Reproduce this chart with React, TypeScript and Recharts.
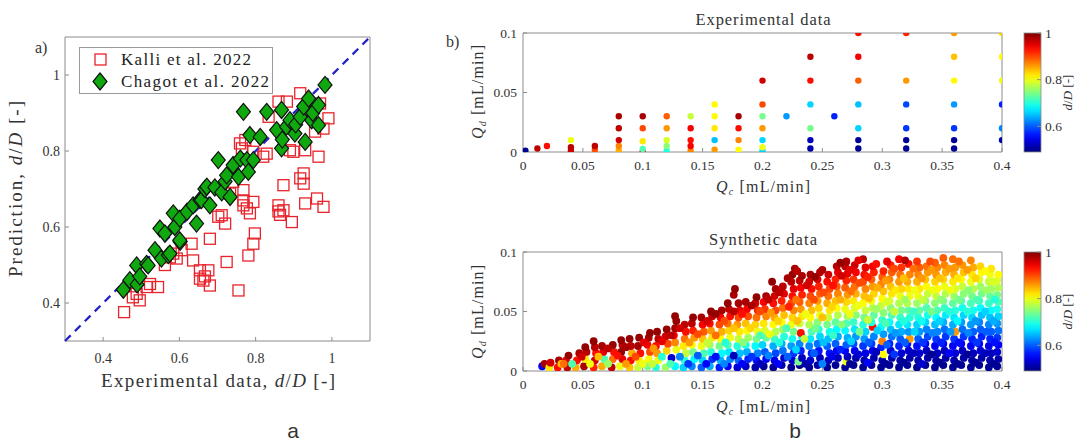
import React from "react";
import { ScatterChart, Scatter, XAxis, YAxis, ReferenceArea, ReferenceLine, Legend } from "recharts";

const SERIF = "Liberation Serif, Times New Roman, serif";
const SANS = "Liberation Sans, Arial, sans-serif";
const AXIS_GREY = "#8c8c8c";
const RED = "#e8232b";
const GREEN = "#0fa80f";

// panel a: [experimental d/D, predicted d/D]
const kalliRows = [
  [0.455, 0.376], [0.488, 0.424], [0.496, 0.407], [0.478, 0.415], [0.514, 0.442], [0.544, 0.442], [0.523, 0.45],
  [0.593, 0.517], [0.584, 0.53], [0.636, 0.512], [0.654, 0.486], [0.663, 0.459], [0.676, 0.486], [0.68, 0.446],
  [0.654, 0.464], [0.667, 0.47], [0.68, 0.569], [0.702, 0.627], [0.72, 0.609], [0.724, 0.508], [0.711, 0.631],
  [0.755, 0.433], [0.781, 0.525], [0.794, 0.556], [0.798, 0.583], [0.777, 0.649], [0.794, 0.666], [0.768, 0.67],
  [0.768, 0.697], [0.785, 0.636], [0.768, 0.657], [0.764, 0.807], [0.773, 0.829], [0.794, 0.798], [0.82, 0.785],
  [0.829, 0.793], [0.759, 0.82], [0.741, 0.719], [0.733, 0.688], [0.86, 0.641], [0.864, 0.632], [0.873, 0.71],
  [0.895, 0.613], [0.899, 0.798], [0.873, 0.644], [0.86, 0.657], [0.917, 0.952], [0.926, 0.741], [0.926, 0.714],
  [0.917, 0.728], [0.93, 0.662], [0.93, 0.802], [0.89, 0.802], [0.965, 0.785], [0.961, 0.675], [0.978, 0.653],
  [0.978, 0.859], [0.991, 0.886], [0.956, 0.851], [0.86, 0.93], [0.882, 0.93], [0.969, 0.925], [0.943, 0.908],
  [0.834, 0.89], [0.632, 0.556], [0.606, 0.539], [0.562, 0.5], [0.575, 0.52],
];

const chagotRows = [
  [0.453, 0.435], [0.47, 0.46], [0.488, 0.499], [0.489, 0.449], [0.496, 0.47], [0.514, 0.503], [0.518, 0.499],
  [0.536, 0.539], [0.549, 0.596], [0.553, 0.517], [0.562, 0.583], [0.571, 0.526], [0.575, 0.53], [0.584, 0.636],
  [0.588, 0.6], [0.601, 0.622], [0.602, 0.561], [0.601, 0.565], [0.62, 0.64], [0.636, 0.657], [0.645, 0.609],
  [0.654, 0.671], [0.658, 0.671], [0.667, 0.7], [0.672, 0.706], [0.68, 0.657], [0.693, 0.704], [0.702, 0.776],
  [0.711, 0.691], [0.72, 0.72], [0.724, 0.736], [0.733, 0.679], [0.741, 0.763], [0.755, 0.732], [0.76, 0.78],
  [0.768, 0.903], [0.777, 0.776], [0.781, 0.745], [0.785, 0.842], [0.794, 0.776], [0.812, 0.837], [0.829, 0.903],
  [0.855, 0.855], [0.868, 0.908], [0.868, 0.807], [0.87, 0.83], [0.881, 0.864], [0.89, 0.881], [0.903, 0.846],
  [0.905, 0.87], [0.917, 0.89], [0.926, 0.917], [0.93, 0.824], [0.939, 0.938], [0.947, 0.881], [0.95, 0.9],
  [0.965, 0.921], [0.965, 0.868], [0.982, 0.974],
];

const diagTicks = [0.4, 0.6, 0.8, 1];
const qcTicks = [0, 0.05, 0.1, 0.15, 0.2, 0.25, 0.3, 0.35, 0.4];
const qdTicks = [0, 0.05, 0.1];
const cbarTicks = [0.6, 0.8, 1];

// panel b top: [Qc, Qd, d/D]
const expRows = [
  [0.002, 0.001, 0.5], [0.012, 0.003, 0.97], [0.02, 0.005, 0.93],
  [0.04, 0.001, 0.96], [0.04, 0.004, 0.97], [0.04, 0.01, 0.8],
  [0.06, 0.002, 0.9], [0.06, 0.005, 0.97],
  [0.08, 0.001, 0.85], [0.08, 0.005, 0.87], [0.08, 0.01, 0.96], [0.08, 0.02, 0.97], [0.08, 0.03, 0.98],
  [0.1, 0.0005, 0.93], [0.1, 0.0025, 0.72], [0.1, 0.009, 0.82], [0.1, 0.02, 0.9], [0.1, 0.03, 0.98],
  [0.12, 0.001, 0.7], [0.12, 0.005, 0.75], [0.12, 0.01, 0.79], [0.12, 0.02, 0.86], [0.12, 0.03, 0.89],
  [0.14, 0.001, 0.87], [0.14, 0.005, 0.94], [0.14, 0.01, 0.93], [0.14, 0.02, 0.94], [0.14, 0.03, 0.78],
  [0.16, 0.002, 0.86], [0.16, 0.01, 0.65], [0.16, 0.02, 0.82], [0.16, 0.03, 0.81], [0.16, 0.04, 0.81],
  [0.18, 0.002, 0.81], [0.18, 0.01, 0.87], [0.18, 0.02, 0.93], [0.18, 0.03, 0.98],
  [0.2, 0.001, 0.66], [0.2, 0.004, 0.8], [0.2, 0.01, 0.66], [0.2, 0.02, 0.86], [0.2, 0.03, 0.74], [0.2, 0.04, 0.9], [0.2, 0.06, 0.96],
  [0.22, 0.03, 0.63],
  [0.24, 0.003, 0.51], [0.24, 0.01, 0.52], [0.24, 0.02, 0.74], [0.24, 0.04, 0.66], [0.24, 0.06, 0.93], [0.24, 0.08, 0.97],
  [0.26, 0.03, 0.57],
  [0.28, 0.003, 0.5], [0.28, 0.01, 0.5], [0.28, 0.02, 0.66], [0.28, 0.04, 0.65], [0.28, 0.06, 0.89], [0.28, 0.08, 0.94], [0.28, 0.1, 0.93],
  [0.32, 0.003, 0.5], [0.32, 0.01, 0.5], [0.32, 0.02, 0.58], [0.32, 0.04, 0.59], [0.32, 0.06, 0.86], [0.32, 0.1, 0.92],
  [0.36, 0.003, 0.5], [0.36, 0.01, 0.5], [0.36, 0.02, 0.58], [0.36, 0.04, 0.63], [0.36, 0.06, 0.81], [0.36, 0.08, 0.84], [0.36, 0.1, 0.86],
  [0.4, 0.01, 0.51], [0.4, 0.02, 0.62], [0.4, 0.04, 0.57], [0.4, 0.06, 0.8], [0.4, 0.08, 0.81], [0.4, 0.1, 0.83],
];

// panel b bottom, Qc < 0.2
const synthLow = [
  [.016, .004, .55], [.018, .006, .98],
  [.022, .003, .82], [.023, .007, .96],
  [.029, .003, .93], [.03, .009, .98], [.032, .006, .84],
  [.037, .003, .97], [.036, .009, .95], [.038, .013, .99],
  [.044, .003, .85], [.045, .009, .93], [.047, .015, .98],
  [.051, .004, .98], [.052, .01, .82], [.053, .016, .97], [.052, .02, .99],
  [.059, .003, .92], [.06, .009, .96], [.061, .015, .93], [.06, .02, .97], [.059, .025, .99],
  [.066, .004, .85], [.068, .01, .72], [.067, .016, .95], [.066, .021, .98],
  [.074, .003, .97], [.075, .01, .88], [.076, .016, .93], [.075, .022, .99],
  [.081, .004, .8], [.083, .01, .95], [.082, .016, .99], [.083, .022, .97], [.082, .026, .99],
  [.089, .003, .84], [.09, .009, .93], [.091, .015, .85], [.09, .021, .97], [.089, .027, .99],
  [.096, .003, .78], [.097, .009, .82], [.098, .015, .93], [.096, .021, .98], [.097, .028, .99],
  [.104, .004, .74], [.105, .01, .81], [.106, .016, .9], [.104, .022, .94], [.105, .028, .98], [.106, .032, .99],
  [.111, .003, .7], [.113, .009, .8], [.112, .015, .86], [.111, .021, .93], [.113, .027, .97], [.112, .033, .99],
  [.119, .003, .76], [.12, .017, .83], [.121, .023, .9], [.119, .029, .96], [.12, .035, .99],
  [.127, .004, .68], [.124, .011, .53], [.128, .018, .8], [.127, .024, .87], [.126, .03, .94], [.127, .036, .98], [.128, .042, .99], [.127, .046, .99],
  [.134, .003, .66], [.135, .009, .7], [.136, .015, .78], [.134, .021, .82], [.135, .027, .88], [.136, .033, .93], [.135, .039, .97],
  [.141, .004, .62], [.143, .01, .68], [.142, .016, .74], [.141, .022, .81], [.143, .028, .86], [.142, .034, .92], [.141, .04, .97], [.142, .045, .99],
  [.149, .003, .6], [.15, .009, .66], [.151, .015, .72], [.149, .021, .8], [.15, .027, .84], [.151, .033, .89], [.15, .039, .94], [.149, .045, .98],
  [.156, .004, .64], [.158, .01, .58], [.157, .016, .7], [.156, .022, .76], [.158, .028, .82], [.157, .034, .86], [.156, .04, .93], [.158, .046, .97], [.157, .05, .99],
  [.164, .003, .57], [.165, .009, .64], [.166, .015, .68], [.164, .021, .74], [.165, .027, .81], [.166, .033, .85], [.164, .039, .9], [.165, .045, .94], [.166, .051, .98],
  [.171, .004, .55], [.173, .01, .62], [.172, .016, .67], [.171, .022, .72], [.173, .028, .8], [.172, .034, .83], [.171, .04, .88], [.173, .046, .93], [.172, .052, .97], [.171, .057, .99],
  [.176, .064, .98], [.177, .069, .99],
  [.179, .003, .53], [.18, .009, .6], [.181, .015, .65], [.179, .021, .7], [.18, .027, .78], [.181, .033, .82], [.179, .039, .86], [.18, .045, .9], [.181, .051, .95], [.18, .057, .98],
  [.186, .004, .52], [.188, .01, .57], [.187, .016, .64], [.186, .022, .69], [.188, .028, .76], [.187, .034, .81], [.186, .04, .84], [.188, .046, .9], [.187, .052, .94], [.186, .058, .98],
  [.194, .003, .51], [.195, .009, .56], [.196, .015, .62], [.194, .021, .68], [.195, .027, .74], [.196, .033, .8], [.194, .039, .83], [.195, .045, .88], [.196, .051, .92], [.194, .057, .96], [.195, .062, .99],
];

// panel b bottom, Qc >= 0.2
const synthHigh = [
  [.201, .004, .5], [.203, .01, .55], [.202, .016, .6], [.2, .022, .66], [.203, .028, .73], [.202, .034, .79], [.201, .04, .82], [.203, .046, .87], [.202, .052, .91], [.201, .058, .94], [.203, .063, .98],
  [.209, .003, .5], [.21, .009, .54], [.211, .015, .59], [.209, .021, .64], [.21, .027, .71], [.211, .033, .77], [.209, .039, .81], [.21, .045, .85], [.211, .051, .9], [.209, .057, .93], [.21, .063, .96], [.211, .069, .98], [.208, .075, .99],
  [.216, .005, .51], [.218, .011, .53], [.217, .017, .61], [.216, .023, .64], [.218, .029, .7], [.217, .035, .76], [.216, .041, .81], [.218, .047, .84], [.217, .053, .88], [.216, .059, .92], [.218, .065, .95], [.217, .071, .97],
  [.224, .003, .5], [.225, .009, .53], [.226, .015, .58], [.224, .021, .63], [.225, .027, .69], [.226, .033, .74], [.224, .039, .8], [.225, .045, .83], [.226, .051, .87], [.224, .057, .9], [.225, .063, .93], [.226, .069, .95], [.224, .075, .97], [.225, .081, .99], [.227, .086, .98],
  [.231, .005, .5], [.23, .008, .74], [.233, .011, .52], [.232, .017, .57], [.231, .023, .62], [.233, .029, .68], [.232, .032, .93], [.231, .04, .78], [.233, .046, .82], [.232, .052, .86], [.231, .058, .89], [.233, .064, .92], [.232, .07, .94], [.231, .076, .97], [.233, .08, .98],
  [.239, .003, .5], [.24, .009, .53], [.241, .015, .57], [.239, .021, .62], [.24, .027, .67], [.241, .033, .72], [.239, .039, .77], [.24, .045, .81], [.241, .051, .84], [.239, .057, .87], [.24, .063, .9], [.241, .069, .93], [.239, .075, .96], [.24, .081, .98],
  [.246, .005, .51], [.248, .011, .52], [.247, .017, .56], [.246, .023, .61], [.248, .029, .66], [.247, .035, .7], [.246, .041, .75], [.248, .047, .8], [.247, .053, .83], [.246, .059, .86], [.248, .065, .89], [.247, .071, .92], [.246, .077, .95], [.248, .083, .97],
  [.254, .003, .5], [.255, .009, .52], [.256, .015, .56], [.254, .021, .6], [.255, .027, .65], [.256, .033, .69], [.254, .039, .74], [.255, .045, .78], [.256, .051, .82], [.254, .057, .85], [.255, .063, .88], [.256, .069, .9], [.254, .075, .93], [.255, .081, .96],
  [.261, .005, .5], [.263, .011, .52], [.262, .017, .55], [.261, .023, .6], [.263, .029, .64], [.262, .035, .68], [.261, .041, .73], [.263, .047, .77], [.262, .053, .81], [.261, .059, .84], [.263, .065, .87], [.262, .071, .89], [.261, .077, .92], [.263, .083, .95], [.262, .088, .97],
  [.269, .003, .5], [.27, .008, .8], [.271, .012, .52], [.269, .017, .55], [.27, .022, .6], [.271, .028, .64], [.269, .034, .68], [.27, .04, .72], [.271, .046, .76], [.269, .052, .8], [.27, .058, .83], [.271, .064, .86], [.269, .07, .89], [.27, .076, .92], [.271, .082, .95], [.269, .088, .97], [.27, .092, .98],
  [.276, .005, .5], [.278, .011, .51], [.277, .017, .55], [.276, .023, .59], [.278, .029, .63], [.277, .035, .67], [.276, .041, .71], [.278, .047, .75], [.277, .053, .79], [.276, .059, .82], [.278, .065, .85], [.277, .071, .88], [.276, .077, .91], [.278, .083, .94], [.277, .089, .96],
  [.284, .003, .5], [.285, .009, .51], [.286, .015, .54], [.284, .021, .58], [.285, .027, .63], [.286, .033, .66], [.284, .039, .7], [.285, .045, .74], [.286, .051, .78], [.284, .057, .81], [.285, .063, .84], [.286, .069, .87], [.284, .075, .9], [.285, .081, .93], [.286, .087, .95], [.284, .094, .97],
  [.291, .005, .5], [.293, .011, .51], [.292, .017, .54], [.291, .023, .58], [.293, .029, .62], [.292, .037, .93], [.291, .041, .7], [.293, .047, .73], [.292, .053, .77], [.291, .059, .8], [.293, .065, .83], [.292, .071, .86], [.291, .077, .89], [.293, .083, .92], [.292, .088, .94],
  [.299, .003, .5], [.3, .009, .51], [.301, .014, .81], [.299, .02, .57], [.3, .025, .87], [.301, .031, .63], [.299, .037, .68], [.3, .043, .71], [.301, .049, .75], [.299, .055, .78], [.3, .061, .81], [.301, .067, .84], [.299, .073, .87], [.3, .079, .89], [.301, .084, .92],
  [.306, .005, .5], [.308, .011, .51], [.307, .017, .53], [.306, .023, .57], [.308, .029, .61], [.307, .035, .65], [.306, .041, .68], [.308, .047, .72], [.307, .053, .75], [.306, .059, .79], [.308, .065, .82], [.307, .071, .84], [.306, .077, .87], [.308, .083, .89], [.307, .089, .92],
  [.314, .003, .5], [.315, .009, .51], [.316, .015, .53], [.314, .021, .57], [.315, .027, .6], [.316, .033, .64], [.314, .039, .67], [.315, .045, .71], [.316, .051, .74], [.314, .057, .77], [.315, .063, .8], [.316, .069, .83], [.314, .075, .86], [.315, .081, .88], [.316, .087, .91], [.314, .094, .94],
  [.321, .005, .5], [.323, .011, .51], [.322, .017, .53], [.321, .023, .56], [.323, .027, .86], [.322, .033, .63], [.321, .039, .67], [.323, .045, .7], [.322, .051, .73], [.321, .057, .77], [.323, .063, .8], [.322, .069, .82], [.321, .075, .85], [.323, .081, .87], [.322, .09, .93],
  [.329, .003, .5], [.33, .009, .51], [.331, .015, .53], [.329, .021, .56], [.33, .027, .6], [.331, .033, .63], [.329, .039, .66], [.33, .045, .7], [.331, .051, .73], [.329, .057, .76], [.33, .063, .8], [.331, .069, .82], [.329, .075, .85], [.33, .081, .87], [.331, .087, .89], [.329, .092, .91],
  [.336, .005, .5], [.338, .011, .51], [.337, .017, .52], [.336, .023, .55], [.338, .029, .59], [.337, .035, .62], [.336, .041, .66], [.338, .047, .69], [.337, .053, .72], [.336, .059, .75], [.338, .065, .78], [.337, .071, .81], [.336, .077, .84], [.338, .083, .86], [.337, .088, .88],
  [.344, .003, .5], [.345, .009, .51], [.346, .015, .52], [.344, .021, .55], [.345, .027, .58], [.346, .033, .62], [.344, .039, .65], [.345, .045, .68], [.346, .051, .72], [.344, .057, .75], [.345, .063, .78], [.346, .069, .81], [.344, .075, .83], [.345, .081, .86], [.346, .087, .87], [.344, .091, .89],
  [.351, .005, .5], [.353, .011, .51], [.352, .017, .52], [.351, .023, .55], [.353, .029, .58], [.352, .035, .61], [.351, .041, .64], [.353, .047, .67], [.352, .053, .71], [.351, .059, .74], [.353, .065, .77], [.352, .071, .8], [.351, .077, .83], [.353, .083, .85], [.352, .089, .87], [.351, .095, .89],
  [.359, .003, .5], [.36, .009, .51], [.361, .015, .53], [.359, .021, .55], [.36, .027, .58], [.361, .033, .86], [.359, .039, .64], [.36, .045, .67], [.361, .051, .7], [.359, .057, .73], [.36, .063, .76], [.361, .069, .79], [.359, .075, .82], [.36, .081, .85], [.361, .087, .86], [.359, .094, .88],
  [.366, .005, .5], [.368, .011, .51], [.367, .017, .52], [.366, .023, .55], [.368, .029, .58], [.367, .035, .61], [.366, .041, .63], [.368, .047, .66], [.367, .053, .69], [.366, .059, .72], [.368, .065, .75], [.367, .071, .78], [.366, .077, .81], [.368, .083, .84], [.367, .089, .86],
  [.374, .003, .5], [.375, .009, .51], [.376, .015, .52], [.374, .021, .55], [.375, .027, .57], [.376, .033, .6], [.374, .039, .63], [.375, .045, .66], [.376, .051, .69], [.374, .057, .72], [.375, .063, .74], [.376, .069, .77], [.374, .075, .8], [.375, .081, .82], [.376, .087, .85], [.374, .093, .87],
  [.381, .005, .5], [.383, .011, .51], [.382, .017, .53], [.381, .023, .55], [.383, .029, .57], [.382, .035, .6], [.381, .041, .62], [.383, .047, .65], [.382, .053, .68], [.381, .059, .71], [.383, .065, .74], [.382, .071, .76], [.381, .077, .79], [.383, .083, .81], [.382, .088, .83],
  [.389, .003, .5], [.39, .009, .51], [.391, .015, .52], [.389, .021, .54], [.39, .027, .57], [.391, .033, .6], [.389, .039, .62], [.39, .045, .65], [.391, .051, .68], [.389, .057, .71], [.39, .063, .73], [.391, .069, .76], [.389, .075, .78], [.39, .081, .8], [.391, .086, .82],
  [.396, .004, .5], [.397, .01, .51], [.396, .016, .53], [.397, .022, .55], [.396, .028, .58], [.397, .034, .61], [.396, .04, .63], [.397, .046, .66], [.396, .052, .69], [.397, .058, .72], [.396, .064, .74], [.397, .07, .77], [.396, .076, .79], [.397, .081, .81],
];

// panel b bottom, points lying between the columns above
const synthMid = [
  [.034, .006, .88], [.041, .006, .72], [.049, .012, .96], [.056, .006, .8], [.063, .012, .84], [.071, .006, .76],
  [.071, .019, .97], [.079, .013, .93], [.086, .006, .86], [.086, .02, .98], [.094, .012, .9], [.1, .006, .8], [.101, .024, .95],
  [.108, .006, .78], [.109, .019, .86], [.116, .012, .7], [.116, .025, .95], [.123, .006, .72], [.124, .03, .97],
  [.131, .012, .62], [.131, .036, .96], [.138, .006, .58], [.139, .024, .86], [.146, .013, .6], [.146, .031, .9],
  [.153, .006, .55], [.154, .024, .78], [.154, .042, .96], [.161, .012, .56], [.161, .03, .88], [.161, .048, .99],
  [.168, .006, .62], [.169, .024, .7], [.168, .042, .9], [.176, .013, .52], [.176, .036, .84], [.176, .05, .97],
  [.183, .006, .55], [.184, .024, .75], [.183, .048, .93], [.191, .012, .58], [.19, .036, .83], [.191, .055, .98],
  [.198, .006, .52], [.198, .03, .72], [.198, .05, .9],
  [.205, .013, .62], [.206, .031, .8], [.207, .049, .86], [.205, .06, .97],
  [.213, .006, .55], [.214, .024, .7], [.213, .042, .83], [.214, .066, .97],
  [.221, .012, .6], [.22, .036, .72], [.222, .054, .92], [.221, .078, .98],
  [.228, .018, .66], [.229, .042, .84], [.228, .06, .88], [.229, .084, .97],
  [.236, .006, .51], [.235, .027, .78], [.236, .048, .8], [.237, .072, .96],
  [.243, .015, .6], [.244, .036, .74], [.243, .06, .9], [.244, .079, .99],
  [.25, .006, .62], [.251, .024, .65], [.25, .045, .84], [.251, .066, .9], [.25, .085, .98],
  [.258, .012, .54], [.259, .03, .71], [.258, .054, .83], [.259, .072, .93],
  [.265, .018, .57], [.266, .039, .75], [.265, .06, .85], [.266, .08, .96], [.265, .091, .99],
  [.273, .006, .5], [.274, .025, .66], [.273, .048, .8], [.274, .067, .88], [.273, .085, .95],
  [.28, .014, .53], [.281, .033, .74], [.28, .055, .8], [.281, .074, .9], [.28, .093, .95],
  [.288, .007, .55], [.289, .024, .6], [.288, .043, .78], [.289, .061, .84], [.288, .079, .92],
  [.295, .016, .52], [.296, .034, .66], [.295, .052, .76], [.296, .07, .85], [.295, .09, .93],
  [.303, .006, .5], [.304, .022, .6], [.303, .04, .72], [.304, .058, .79], [.303, .076, .86], [.304, .092, .95],
  [.31, .014, .58], [.311, .032, .63], [.31, .05, .78], [.311, .068, .82], [.31, .086, .9],
  [.318, .007, .5], [.319, .024, .6], [.318, .042, .7], [.319, .06, .76], [.318, .078, .84], [.319, .093, .97],
  [.326, .015, .52], [.327, .033, .66], [.326, .05, .71], [.327, .068, .8], [.326, .086, .88],
  [.333, .006, .53], [.334, .024, .58], [.333, .042, .69], [.334, .06, .78], [.333, .078, .86],
  [.341, .014, .5], [.342, .032, .62], [.341, .05, .74], [.342, .068, .8], [.341, .085, .86], [.34, .092, .9],
  [.348, .007, .5], [.349, .024, .57], [.348, .042, .66], [.349, .06, .75], [.348, .078, .84],
  [.356, .015, .55], [.357, .033, .63], [.356, .05, .7], [.357, .068, .8], [.356, .086, .86],
  [.363, .006, .5], [.364, .024, .56], [.363, .042, .68], [.364, .06, .74], [.363, .078, .82], [.364, .092, .88],
  [.371, .014, .5], [.372, .032, .62], [.371, .05, .7], [.372, .068, .75], [.371, .085, .86],
  [.378, .007, .5], [.379, .024, .58], [.378, .042, .63], [.379, .06, .72], [.378, .078, .83],
  [.386, .015, .52], [.387, .033, .6], [.386, .05, .66], [.387, .068, .76], [.386, .084, .81],
  [.393, .006, .5], [.394, .024, .56], [.393, .042, .64], [.394, .06, .7], [.393, .075, .79],
];

const CMIN = 0.49;
const CMAX = 1;

function jet(v: number) {
  const t = Math.min(1, Math.max(0, (v - CMIN) / (CMAX - CMIN)));
  const c = (x: number) => Math.round(255 * Math.min(1, Math.max(0, x)));
  return `rgb(${c(1.5 - Math.abs(4 * t - 3))},${c(1.5 - Math.abs(4 * t - 2))},${c(1.5 - Math.abs(4 * t - 1))})`;
}

const kalliData = kalliRows.map(([x, y]) => ({ x, y }));
const chagotData = chagotRows.map(([x, y]) => ({ x, y }));
const expData = expRows.map(([x, y, v]) => ({ x, y, v }));
const synthData = [...synthLow, ...synthHigh, ...synthMid].map(([x, y, v]) => ({ x, y, v }));

const Square = (p: any) => (
  <rect x={p.cx - 5.5} y={p.cy - 5.5} width={11} height={11} fill="none" stroke={RED} strokeWidth={1.3} />
);

const Diamond = (p: any) => (
  <polygon
    points={`${p.cx},${p.cy - 8.5} ${p.cx + 7},${p.cy} ${p.cx},${p.cy + 8.5} ${p.cx - 7},${p.cy}`}
    fill={GREEN}
    stroke="#111"
    strokeWidth={1.2}
  />
);

const dot = (r: number) => (p: any) => <circle cx={p.cx} cy={p.cy} r={r} fill={jet(p.payload.v)} />;

const renderLegend = () => (
  <div style={{ width: 194, height: 47, border: "1px solid #9a9a9a", background: "#fff", boxSizing: "border-box" }}>
    <svg width={192} height={45} style={{ display: "block" }}>
      <rect x={15} y={6} width={11} height={11} fill="none" stroke={RED} strokeWidth={1.3} />
      <text x={41} y={17} fontFamily={SERIF} fontSize={17} fill="#222" textLength={130} lengthAdjust="spacing">
        Kalli et al. 2022
      </text>
      <polygon points="20,25 27,33.5 20,42 13,33.5" fill={GREEN} stroke="#111" strokeWidth={1.2} />
      <text x={41} y={39} fontFamily={SERIF} fontSize={17} fill="#222" textLength={148} lengthAdjust="spacing">
        Chagot et al. 2022
      </text>
    </svg>
  </div>
);

function PanelA() {
  const tickStyle = { fontSize: 14, fill: "#333", fontFamily: SERIF };
  return (
    <div style={{ position: "absolute", left: 0, top: 0 }}>
      <ScatterChart width={400} height={400} margin={{ top: 37, right: 30, bottom: 0, left: 0 }}>
        <XAxis type="number" dataKey="x" domain={[0.3, 1.1]} ticks={diagTicks} allowDataOverflow height={59}
          axisLine={false} tickSize={-4} tickMargin={16} tickLine={{ stroke: AXIS_GREY }} tick={tickStyle} />
        <YAxis type="number" dataKey="y" domain={[0.3, 1.1]} ticks={diagTicks} allowDataOverflow width={65}
          axisLine={false} tickSize={-4} tickMargin={9} tickLine={{ stroke: AXIS_GREY }} tick={tickStyle} />
        <ReferenceArea x1={0.3} x2={1.1} y1={0.3} y2={1.1} fill="none" stroke={AXIS_GREY} strokeWidth={1} />
        <ReferenceLine segment={[{ x: 0.3, y: 0.3 }, { x: 1.1, y: 1.1 }]} stroke="#2323c8" strokeWidth={2.3} strokeDasharray="8 6" />
        <Scatter name="Kalli et al. 2022" data={kalliData} shape={Square} isAnimationActive={false} />
        <Scatter name="Chagot et al. 2022" data={chagotData} shape={Diamond} isAnimationActive={false} />
        <Legend layout="vertical" align="center" verticalAlign="middle" content={renderLegend}
          wrapperStyle={{ left: 79, top: 47, width: 194, height: 47 }} />
      </ScatterChart>
    </div>
  );
}

function PanelB({ top, data, r }: { top: number; data: any[]; r: number }) {
  const tickStyle = { fontSize: 13.5, fill: "#333", fontFamily: SERIF };
  return (
    <div style={{ position: "absolute", left: 440, top }}>
      <ScatterChart width={635} height={200} margin={{ top: 33, right: 73, bottom: 0, left: 0 }}>
        <XAxis type="number" dataKey="x" domain={[0, 0.4]} ticks={qcTicks} allowDataOverflow height={48}
          axisLine={false} tickSize={-4} tickMargin={12} tickLine={{ stroke: AXIS_GREY }} tick={tickStyle} />
        <YAxis type="number" dataKey="y" domain={[0, 0.1]} ticks={qdTicks} allowDataOverflow width={83}
          axisLine={false} tickSize={-4} tickMargin={10} tickLine={{ stroke: AXIS_GREY }} tick={tickStyle} />
        <ReferenceArea x1={0} x2={0.4} y1={0} y2={0.1} fill="none" stroke={AXIS_GREY} strokeWidth={1} />
        <Scatter data={data} shape={dot(r)} isAnimationActive={false} />
      </ScatterChart>
    </div>
  );
}

function Colorbar({ top, id }: { top: number; id: string }) {
  const h = 119;
  const stops = Array.from({ length: 21 }, (_, i) => i / 20);
  const yOf = (v: number) => top + ((CMAX - v) / (CMAX - CMIN)) * h;
  const mid = top + h / 2;
  return (
    <g>
      <defs>
        <linearGradient id={id} x1="0" y1="0" x2="0" y2="1">
          {stops.map((s) => (
            <stop key={s} offset={s} stopColor={jet(CMAX - s * (CMAX - CMIN))} />
          ))}
        </linearGradient>
      </defs>
      <rect x={1024} y={top} width={17} height={h} fill={`url(#${id})`} stroke={AXIS_GREY} strokeWidth={0.8} />
      {cbarTicks.map((t) => (
        <g key={t}>
          <line x1={1037} x2={1041} y1={yOf(t)} y2={yOf(t)} stroke={AXIS_GREY} />
          <text x={1045} y={yOf(t) + 4.5} fontFamily={SERIF} fontSize={13.5} fill="#333">{String(t)}</text>
        </g>
      ))}
      <text transform={`rotate(-90 1072 ${mid})`} x={1072} y={mid} textAnchor="middle"
        fontFamily={SERIF} fontSize={13} fill="#333">
        <tspan fontStyle="italic">d</tspan>/<tspan fontStyle="italic">D</tspan> [-]
      </text>
    </g>
  );
}

function QLabel({ x, y, sub, rotate }: { x: number; y: number; sub: string; rotate?: boolean }) {
  return (
    <text x={x} y={y} textAnchor="middle" fontFamily={SERIF} fontSize={16} fill="#333"
      transform={rotate ? `rotate(-90 ${x} ${y})` : undefined} textLength={94} lengthAdjust="spacing">
      <tspan fontStyle="italic">Q</tspan>
      <tspan fontStyle="italic" fontSize={10} dy={3}>{sub}</tspan>
      <tspan dy={-3}> [mL/min]</tspan>
    </text>
  );
}

function Overlay() {
  return (
    <svg width={1075} height={442} style={{ position: "absolute", left: 0, top: 0, pointerEvents: "none" }}>
      <text x={35} y={53} fontFamily={SERIF} fontSize={16} fill="#333">a)</text>
      <text x={22} y={189} transform="rotate(-90 22 189)" textAnchor="middle" fontFamily={SERIF} fontSize={19}
        fill="#333" textLength={176} lengthAdjust="spacing">
        Prediction, <tspan fontStyle="italic">d</tspan>/<tspan fontStyle="italic">D</tspan> [-]
      </text>
      <text x={218} y={387} textAnchor="middle" fontFamily={SERIF} fontSize={19} fill="#333"
        textLength={234} lengthAdjust="spacing">
        Experimental data, <tspan fontStyle="italic">d</tspan>/<tspan fontStyle="italic">D</tspan> [-]
      </text>

      <text x={446} y={47} fontFamily={SERIF} fontSize={16} fill="#333">b)</text>
      <text x={763} y={25} textAnchor="middle" fontFamily={SERIF} fontSize={16.5} fill="#333"
        textLength={135} lengthAdjust="spacing">Experimental data</text>
      <QLabel x={483} y={92} sub="d" rotate />
      <QLabel x={763} y={192} sub="c" />
      <Colorbar top={33} id="cbTop" />

      <text x={763} y={245} textAnchor="middle" fontFamily={SERIF} fontSize={16.5} fill="#333"
        textLength={108} lengthAdjust="spacing">Synthetic data</text>
      <QLabel x={483} y={312} sub="d" rotate />
      <QLabel x={763} y={412} sub="c" />
      <Colorbar top={252} id="cbBottom" />

      <text x={293} y={438} textAnchor="middle" fontFamily={SANS} fontSize={21} fill="#333">a</text>
      <text x={795} y={438} textAnchor="middle" fontFamily={SANS} fontSize={21} fill="#333">b</text>
    </svg>
  );
}

export default function App() {
  return (
    <div style={{ position: "absolute", left: 0, top: 0, width: 1075, height: 442, background: "#fff", overflow: "hidden" }}>
      <PanelA />
      <PanelB top={0} data={expData} r={3.2} />
      <PanelB top={219} data={synthData} r={3.9} />
      <Overlay />
    </div>
  );
}
